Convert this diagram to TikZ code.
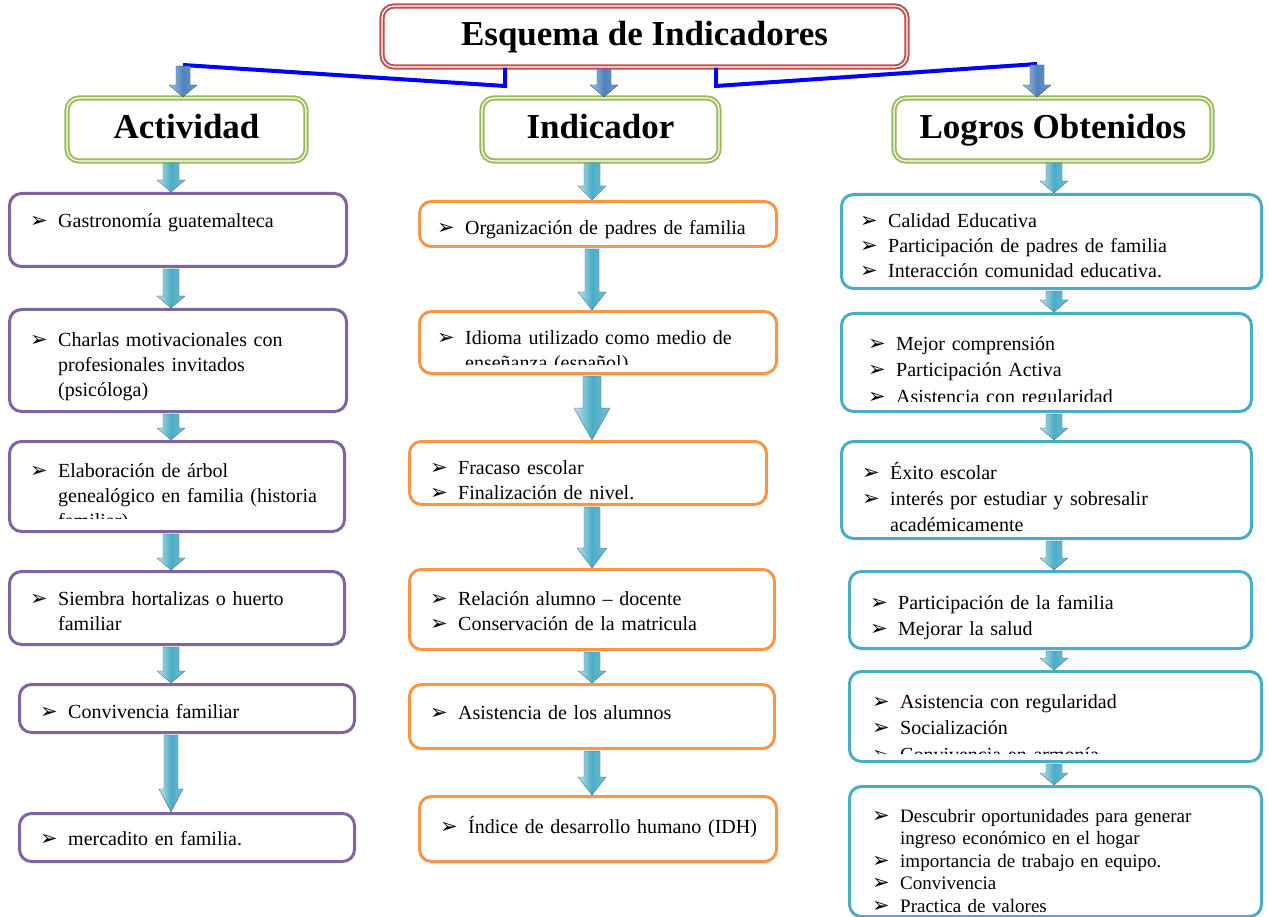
\documentclass[tikz,border=0pt]{standalone}
\usepackage{fontspec}
\setmainfont{Liberation Serif}
\newfontfamily\simbolos{DejaVu Sans}
\usetikzlibrary{calc}
\definecolor{rojoT}{HTML}{C0504D}
\definecolor{verdeT}{HTML}{9BBB59}
\definecolor{moradoT}{HTML}{8064A2}
\definecolor{naranjaT}{HTML}{F79646}
\definecolor{azulT}{HTML}{4BACC6}
\definecolor{azulF}{HTML}{4F81BD}
\newlength{\sangria}
\setlength{\sangria}{28pt}
\newcommand{\flecha}{{\simbolos\fontsize{21}{21}\selectfont ➢}}
\newcommand{\punto}[1]{\par\noindent\hangindent=\sangria\hangafter=1\makebox[\sangria][l]{\flecha}\strut#1\par}
\newcommand{\caja}[6]{\node[#1, minimum width={#4-#2}, minimum height={#5-#3}] (#6) at (#2,#3) {};}
\newcommand{\bajada}[7][flechaT]{%
  \path[#1] let \p1=(#2 -| #4), \p2=(#3 -| #4) in
    ({\x1-#5pt},{\y1-1pt}) -- ({\x1+#5pt},{\y1-1pt}) -- ({\x1+#5pt},{\y2+#7pt}) -- ({\x1+#6pt},{\y2+#7pt})
    -- (\x1,\y2) -- ({\x1-#6pt},{\y2+#7pt}) -- ({\x1-#5pt},{\y2+#7pt}) -- cycle;}
\tikzset{
  caja/.style={anchor=north west, rounded corners=12pt, line width=3pt, fill=white, inner sep=0pt},
  cajaA/.style={caja, draw=moradoT},
  cajaI/.style={caja, draw=naranjaT},
  cajaL/.style={caja, draw=azulT},
  cabecera/.style={caja, draw=verdeT, line width=2pt, double=white, double distance=1.2pt,
    text height=24pt, text depth=6pt, font=\fontsize{35}{40}\selectfont\bfseries},
  titulo/.style={cabecera, draw=rojoT},
  texto/.style={anchor=north west, inner sep=0pt, align=left, text width=390pt,
    font=\fontsize{20}{25}\selectfont},
  enlace/.style={draw=blue, line width=4pt},
  flechaT/.style={left color=azulT!35!white, right color=azulT!75!white, middle color=azulT,
    draw=azulT!60!black, line width=0.3pt},
  flechaF/.style={left color=azulF!45!white, right color=azulF!80!white, middle color=azulF,
    draw=azulF!60!black, line width=0.3pt}
}
\begin{document}
\begin{tikzpicture}[x=1pt, y=-1pt]
  \useasboundingbox (0,0) rectangle (1269,917);
  \fill[white] (0,0) rectangle (1269,917);

  % Enlaces del titulo
  \coordinate (codoI) at (505,86);
  \coordinate (puntaI) at (183,65);
  \coordinate (codoD) at (716,86);
  \coordinate (puntaD) at (1037,64);
  \coordinate (ejeT) at (604,0);
  \coordinate (ejeA) at (171,0);
  \coordinate (ejeI) at (592,0);
  \coordinate (ejeL) at (1054,0);

  % Titulo y cabeceras
  \node[titulo, minimum width=525, minimum height=61] (titulo) at (381,5) {Esquema de Indicadores};
  \draw[enlace] (titulo.south -| codoI) -- (codoI) -- (puntaI);
  \draw[enlace] (titulo.south -| codoD) -- (codoD) -- (puntaD);
  \node[cabecera, minimum width=239, minimum height=63] (actividad) at (66,97) {Actividad};
  \node[cabecera, minimum width=237, minimum height=63] (indicador) at (481,97) {Indicador};
  \node[cabecera, minimum width=318, minimum height=63] (logros) at (893,97) {Logros Obtenidos};

  % Columna Actividad
  \caja{cajaA}{8}{192}{345}{265}{act1}
  \caja{cajaA}{8}{308}{345}{410}{act2}
  \caja{cajaA}{8}{440}{343}{530}{act3}
  \caja{cajaA}{8}{570}{343}{643}{act4}
  \caja{cajaA}{18}{683}{353}{731}{act5}
  \caja{cajaA}{18}{812}{353}{860}{act6}
  \node[texto] (tact1) at (30,202.5) {\punto{Gastronomía guatemalteca}};
  \node[texto] (tact2) at (30,321.5) {\punto{Charlas motivacionales con\newline profesionales invitados\newline (psicóloga)}};
  \begin{scope}
    \clip (8,440) rectangle (343,518);
    \node[texto] (tact3) at (30,452.5) {\punto{Elaboración de árbol\newline genealógico en familia (historia\newline familiar)}};
  \end{scope}
  \node[texto] (tact4) at (30,580.5) {\punto{Siembra hortalizas o huerto\newline familiar}};
  \node[texto] (tact5) at (40,693.5) {\punto{Convivencia familiar}};
  \node[texto] (tact6) at (40,820.5) {\punto{mercadito en familia.}};

  % Columna Indicador
  \caja{cajaI}{418}{200}{775}{245}{ind1}
  \caja{cajaI}{418}{310}{775}{372}{ind2}
  \caja{cajaI}{408}{440}{765}{503}{ind3}
  \caja{cajaI}{408}{568}{773}{648}{ind4}
  \caja{cajaI}{408}{683}{773}{747}{ind5}
  \caja{cajaI}{418}{795}{775}{860}{ind6}
  \node[texto] (tind1) at (437,209.5) {\punto{Organización de padres de familia}};
  \begin{scope}
    \clip (418,310) rectangle (775,364);
    \node[texto] (tind2) at (437,319.5) {\punto{Idioma utilizado como medio de\newline enseñanza (español)}};
  \end{scope}
  \node[texto] (tind3) at (430,449.5) {\punto{Fracaso escolar}\punto{Finalización de nivel.}};
  \node[texto] (tind4) at (430,580.5) {\punto{Relación alumno – docente}\punto{Conservación de la matricula}};
  \node[texto] (tind5) at (430,694.5) {\punto{Asistencia de los alumnos}};
  \node[texto] (tind6) at (440,808.5) {\punto{Índice de desarrollo humano (IDH)}};

  % Columna Logros
  \caja{cajaL}{840}{193}{1260}{287}{log1}
  \caja{cajaL}{840}{312}{1250}{410}{log2}
  \caja{cajaL}{840}{440}{1250}{537}{log3}
  \caja{cajaL}{848}{570}{1250}{647}{log4}
  \caja{cajaL}{848}{670}{1260}{760}{log5}
  \caja{cajaL}{848}{785}{1260}{915}{log6}
  \node[texto] (tlog1) at (860,202.5) {\punto{Calidad Educativa}\punto{Participación de padres de familia}\punto{Interacción comunidad educativa.}};
  \begin{scope}
    \clip (840,312) rectangle (1250,401);
    \node[texto, font=\fontsize{20}{26.5}\selectfont] (tlog2) at (868,323.5) {\punto{Mejor comprensión}\punto{Participación Activa}\punto{Asistencia con regularidad}};
  \end{scope}
  \node[texto, font=\fontsize{20}{26}\selectfont] (tlog3) at (862,452.8) {\punto{Éxito escolar}\punto{interés por estudiar y sobresalir\newline académicamente}};
  \node[texto, font=\fontsize{20}{26}\selectfont] (tlog4) at (870,582.8) {\punto{Participación de la familia}\punto{Mejorar la salud}};
  \begin{scope}
    \clip (848,670) rectangle (1260,753);
    \node[texto, font=\fontsize{20}{26.5}\selectfont] (tlog5) at (872,681.5) {\punto{Asistencia con regularidad}\punto{Socialización}\punto{Convivencia en armonía}};
  \end{scope}
  \node[texto, font=\fontsize{19}{22.5}\selectfont] (tlog6) at (872,799.3) {\punto{Descubrir oportunidades para generar\newline ingreso económico en el hogar}\punto{importancia de trabajo en equipo.}\punto{Convivencia}\punto{Practica de valores}};

  % Flechas de bloque
  \bajada[flechaF]{puntaI}{actividad.north}{puntaI}{7}{14}{12}
  \bajada[flechaF]{titulo.south}{indicador.north}{ejeT}{7}{14}{12}
  \bajada[flechaF]{puntaD}{logros.north}{puntaD}{7}{14}{12}
  \bajada{actividad.south}{act1.north}{ejeA}{8}{14}{12}
  \bajada{act1.south}{act2.north}{ejeA}{8}{14}{12}
  \bajada{act2.south}{act3.north}{ejeA}{8}{14}{12}
  \bajada{act3.south}{act4.north}{ejeA}{8}{14}{12}
  \bajada{act4.south}{act5.north}{ejeA}{8}{14}{12}
  \bajada{act5.south}{act6.north}{ejeA}{7}{12}{23}
  \bajada{indicador.south}{ind1.north}{ejeI}{8}{14}{14}
  \bajada{ind1.south}{ind2.north}{ejeI}{7}{14}{18}
  \bajada{ind2.south}{ind3.north}{ejeI}{9}{18}{32}
  \bajada{ind3.south}{ind4.north}{ejeI}{8}{15}{20}
  \bajada{ind4.south}{ind5.north}{ejeI}{8}{14}{12}
  \bajada{ind5.south}{ind6.north}{ejeI}{8}{14}{18}
  \bajada{logros.south}{log1.north}{ejeL}{8}{14}{12}
  \bajada{log1.south}{log2.north}{ejeL}{8}{14}{12}
  \bajada{log2.south}{log3.north}{ejeL}{8}{14}{12}
  \bajada{log3.south}{log4.north}{ejeL}{8}{14}{12}
  \bajada{log4.south}{log5.north}{ejeL}{8}{14}{12}
  \bajada{log5.south}{log6.north}{ejeL}{8}{14}{12}
\end{tikzpicture}
\end{document}
